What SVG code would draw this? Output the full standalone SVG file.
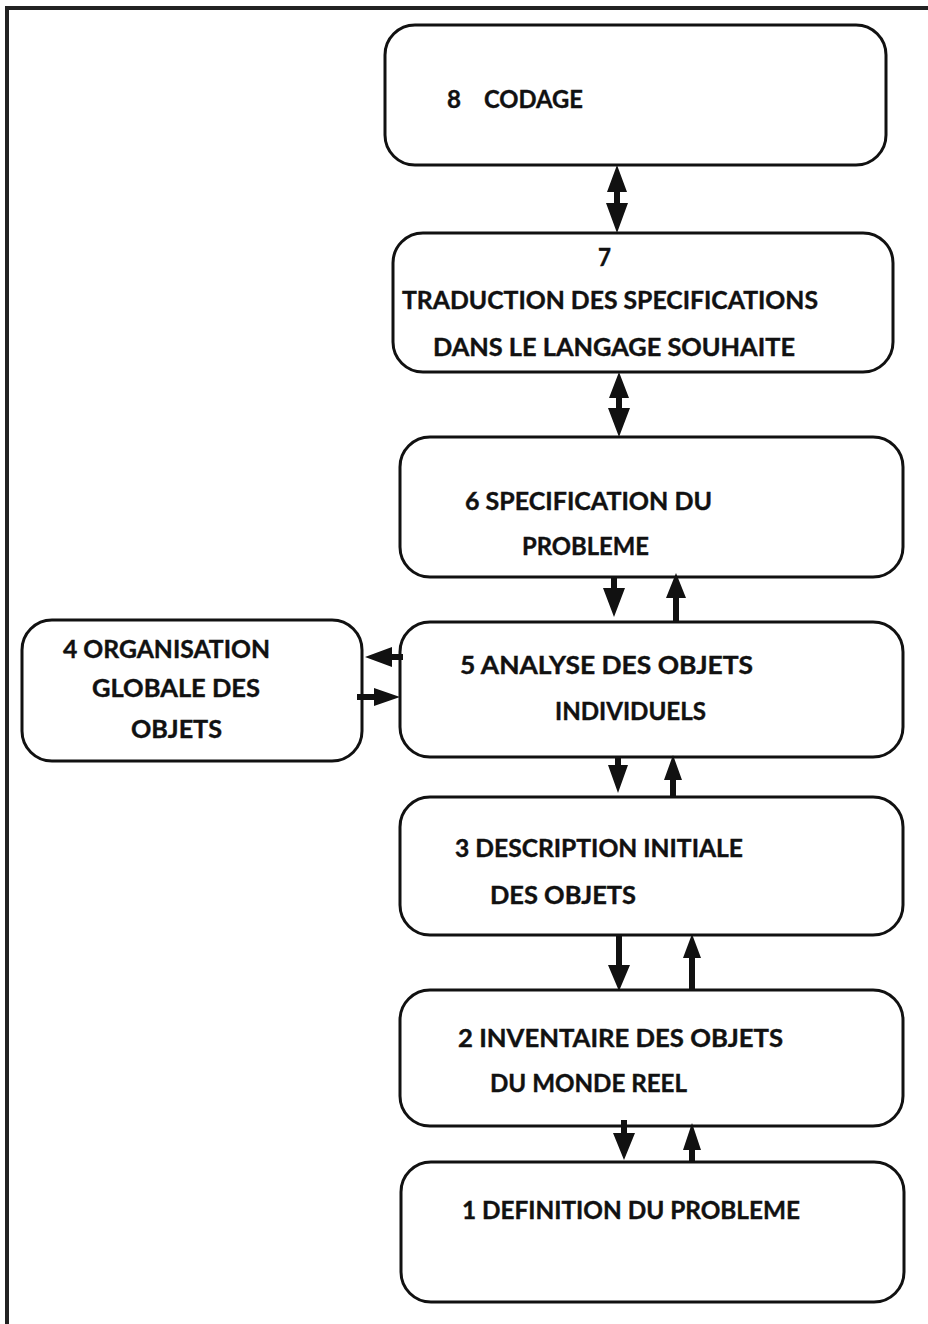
<svg xmlns="http://www.w3.org/2000/svg" width="928" height="1324" viewBox="0 0 928 1324">
<style>
.box{fill:#fff;stroke:#111;stroke-width:3}
.t{font-family:Lato,"Liberation Sans",sans-serif;font-weight:bold;font-size:25px;fill:#111;stroke:#111;stroke-width:0.4}
.a{fill:#111}
.frame{stroke:#222;stroke-width:4;fill:none}
</style>
<rect width="928" height="1324" fill="#fff"/>
<path class="frame" d="M7,1324 V8 H928"/>
<g id="n8"><rect class="box" x="385" y="25" width="501" height="140" rx="30"/>
<text class="t" x="447" y="108" textLength="14" lengthAdjust="spacingAndGlyphs">8</text>
<text class="t" x="484" y="108" textLength="99" lengthAdjust="spacingAndGlyphs">CODAGE</text></g>
<g id="n7"><rect class="box" x="393" y="233" width="500" height="139" rx="30"/>
<text class="t" x="598" y="266" textLength="13" lengthAdjust="spacingAndGlyphs">7</text>
<text class="t" x="402" y="309" textLength="416" lengthAdjust="spacingAndGlyphs">TRADUCTION DES SPECIFICATIONS</text>
<text class="t" x="433" y="356" textLength="362" lengthAdjust="spacingAndGlyphs">DANS LE LANGAGE SOUHAITE</text></g>
<g id="n6"><rect class="box" x="400" y="437" width="503" height="140" rx="30"/>
<text class="t" x="465" y="510" textLength="247" lengthAdjust="spacingAndGlyphs">6 SPECIFICATION DU</text>
<text class="t" x="522" y="555" textLength="127" lengthAdjust="spacingAndGlyphs">PROBLEME</text></g>
<g id="n5"><rect class="box" x="400" y="622" width="503" height="135" rx="30"/>
<text class="t" x="460" y="674" textLength="293" lengthAdjust="spacingAndGlyphs">5 ANALYSE DES OBJETS</text>
<text class="t" x="555" y="720" textLength="151" lengthAdjust="spacingAndGlyphs">INDIVIDUELS</text></g>
<g id="n4"><rect class="box" x="22" y="620" width="340" height="141" rx="30"/>
<text class="t" x="63" y="658" textLength="207" lengthAdjust="spacingAndGlyphs">4 ORGANISATION</text>
<text class="t" x="92" y="697" textLength="168" lengthAdjust="spacingAndGlyphs">GLOBALE DES</text>
<text class="t" x="131" y="738" textLength="91" lengthAdjust="spacingAndGlyphs">OBJETS</text></g>
<g id="n3"><rect class="box" x="400" y="797" width="503" height="138" rx="30"/>
<text class="t" x="455" y="857" textLength="288" lengthAdjust="spacingAndGlyphs">3 DESCRIPTION INITIALE</text>
<text class="t" x="490" y="904" textLength="146" lengthAdjust="spacingAndGlyphs">DES OBJETS</text></g>
<g id="n2"><rect class="box" x="400" y="990" width="503" height="136" rx="30"/>
<text class="t" x="458" y="1047" textLength="325" lengthAdjust="spacingAndGlyphs">2 INVENTAIRE DES OBJETS</text>
<text class="t" x="490" y="1092" textLength="197" lengthAdjust="spacingAndGlyphs">DU MONDE REEL</text></g>
<g id="n1"><rect class="box" x="401" y="1162" width="503" height="140" rx="30"/>
<text class="t" x="462" y="1219" textLength="338" lengthAdjust="spacingAndGlyphs">1 DEFINITION DU PROBLEME</text></g>
<g id="connectors">
<polygon class="a" points="617,165 627,192 620,192 620,203 628,203 617,233 606,203 614,203 614,192 607,192"/>
<polygon class="a" points="619,372 629,398 622,398 622,408 630,408 619,437 608,408 616,408 616,398 609,398"/>
<polygon class="a" points="611,577 617,577 617,588 625,588 614,617 603,588 611,588"/>
<polygon class="a" points="676,573 686,598 679,598 679,622 673,622 673,598 666,598"/>
<polygon class="a" points="365,657 392,647 392,654 403,654 403,660 392,660 392,667"/>
<polygon class="a" points="400,697 374,688 374,694 357,694 357,700 374,700 374,706"/>
<polygon class="a" points="615,757 621,757 621,765 628,765 618,793 608,765 615,765"/>
<polygon class="a" points="673,755 682,780 676,780 676,797 670,797 670,780 664,780"/>
<polygon class="a" points="616,935 622,935 622,965 630,965 619,991 608,965 616,965"/>
<polygon class="a" points="692,934 701,958 695,958 695,990 689,990 689,958 683,958"/>
<polygon class="a" points="621,1120 627,1120 627,1133 635,1133 624,1160 613,1133 621,1133"/>
<polygon class="a" points="692,1123 701,1150 695,1150 695,1162 689,1162 689,1150 683,1150"/>
</g>
</svg>
